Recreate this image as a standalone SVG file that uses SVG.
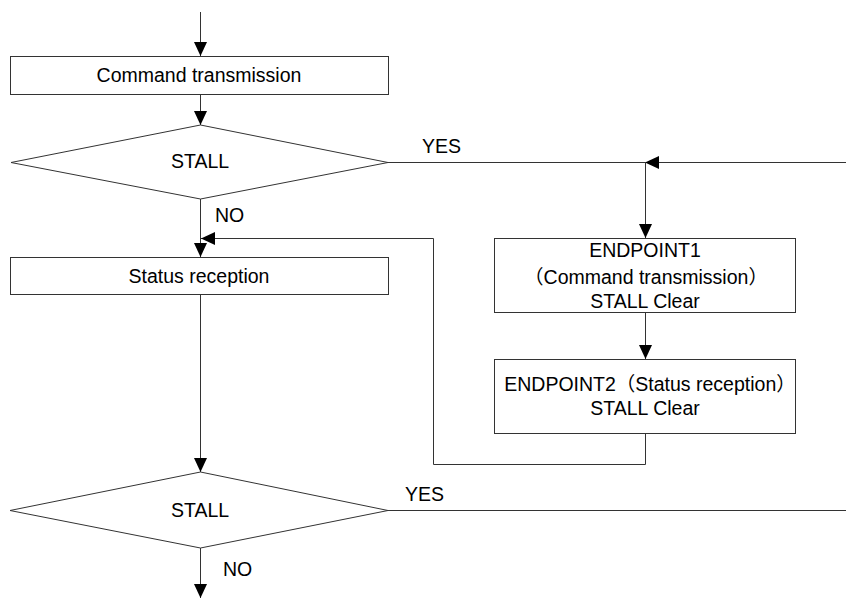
<svg xmlns="http://www.w3.org/2000/svg" width="846" height="598" viewBox="0 0 846 598">
  <style>
    .shape { fill: #ffffff; stroke: #333333; stroke-width: 1; }
    .wire { fill: none; stroke: #333333; stroke-width: 1; }
    .lbl { font-family: "Liberation Sans", "Noto Sans CJK JP", Arial, sans-serif; font-size: 19.5px; fill: #000000; }
    .mid { text-anchor: middle; }
  </style>
  <defs>
    <marker id="arrow" markerUnits="userSpaceOnUse" markerWidth="14" markerHeight="13" refX="14" refY="6.5" orient="auto">
      <path d="M0,0 L14,6.5 L0,13 Z" fill="#000000"/>
    </marker>
  </defs>

  <g id="connectors">
    <path class="wire" d="M200.5,12 V56" marker-end="url(#arrow)"/>
    <path class="wire" d="M200.5,95 V125" marker-end="url(#arrow)"/>
    <path class="wire" d="M388,162.5 H846"/>
    <path class="wire" d="M846,162.5 H645" marker-end="url(#arrow)"/>
    <path class="wire" d="M645.5,162 V238" marker-end="url(#arrow)"/>
    <path class="wire" d="M645.5,313 V359" marker-end="url(#arrow)"/>
    <path class="wire" d="M645.5,434 V464.5 H433.5 V238.5 H201" marker-end="url(#arrow)"/>
    <path class="wire" d="M200.5,199 V257" marker-end="url(#arrow)"/>
    <path class="wire" d="M200.5,295 V472" marker-end="url(#arrow)"/>
    <path class="wire" d="M388,510.5 H846"/>
    <path class="wire" d="M200.5,548 V598" marker-end="url(#arrow)"/>
  </g>

  <g id="command-transmission">
    <rect class="shape" x="10.5" y="56.5" width="378" height="38"/>
    <text class="lbl mid" x="199" y="82">Command transmission</text>
  </g>

  <g id="stall-check-1">
    <polygon class="shape" points="11,162.5 200.5,125 388,162.5 200.5,199"/>
    <text class="lbl mid" x="200" y="168">STALL</text>
    <text class="lbl" x="422" y="153">YES</text>
    <text class="lbl" x="215" y="222">NO</text>
  </g>

  <g id="status-reception">
    <rect class="shape" x="10.5" y="257.5" width="378" height="37"/>
    <text class="lbl mid" x="199" y="283">Status reception</text>
  </g>

  <g id="endpoint1-clear">
    <rect class="shape" x="494.5" y="238.5" width="301" height="74"/>
    <text class="lbl mid" x="645" y="257">ENDPOINT1</text>
    <text class="lbl mid" x="646" y="284">（Command transmission）</text>
    <text class="lbl mid" x="645" y="308">STALL Clear</text>
  </g>

  <g id="endpoint2-clear">
    <rect class="shape" x="494.5" y="359.5" width="301" height="74"/>
    <text class="lbl mid" x="650" y="391">ENDPOINT2（Status reception）</text>
    <text class="lbl mid" x="645" y="415">STALL Clear</text>
  </g>

  <g id="stall-check-2">
    <polygon class="shape" points="10,510.5 200.5,472 388,510.5 200.5,548"/>
    <text class="lbl mid" x="200" y="517">STALL</text>
    <text class="lbl" x="405" y="501">YES</text>
    <text class="lbl" x="223" y="576">NO</text>
  </g>
</svg>
